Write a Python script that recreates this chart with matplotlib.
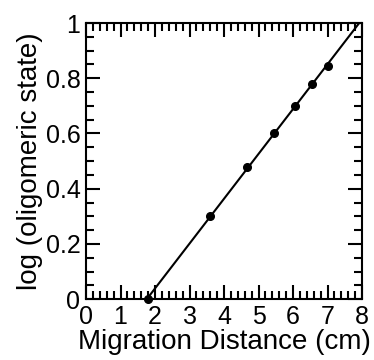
import numpy as np
import matplotlib
matplotlib.use("Agg")
import matplotlib.pyplot as plt
from matplotlib.ticker import MultipleLocator

# migration distance (cm) vs log of oligomeric state
distance = [1.80, 3.58, 4.68, 5.45, 6.05, 6.54, 7.02]
log_state = [0.0, 0.301, 0.477, 0.602, 0.699, 0.778, 0.845]

plt.rcParams['font.family'] = ['Liberation Sans', 'DejaVu Sans']

fig = plt.figure(figsize=(3.74, 3.6), dpi=100)
ax = fig.add_axes([0.23, 0.169, 0.738, 0.767])

# least squares line through the points
slope, intercept = np.polyfit(distance, log_state, 1)
xfit = np.array([-intercept / slope, 9.0])
ax.plot(xfit, slope * xfit + intercept, color="black", lw=1.5)
ax.plot(distance, log_state, "o", color="black", ms=5.5, clip_on=False, zorder=5)

ax.set_xlim(0, 8)
ax.set_ylim(0, 1)
ax.xaxis.set_major_locator(MultipleLocator(1))
ax.xaxis.set_minor_locator(MultipleLocator(0.2))
ax.yaxis.set_major_locator(MultipleLocator(0.2))
ax.yaxis.set_minor_locator(MultipleLocator(0.05))
ax.yaxis.set_major_formatter(plt.FuncFormatter(lambda v, p: "%g" % round(v, 2)))

ax.tick_params(which="both", direction="in", top=True, right=True, width=1.5)
ax.tick_params(which="major", length=10, labelsize=18, pad=4)
ax.tick_params(which="minor", length=6)
for s in ax.spines.values():
    s.set_linewidth(1.5)

ax.set_xlabel("Migration Distance (cm)", fontsize=20, labelpad=0)
ax.set_ylabel("log (oligomeric state)", fontsize=20, labelpad=2)

fig.savefig("out.png", dpi=100)
